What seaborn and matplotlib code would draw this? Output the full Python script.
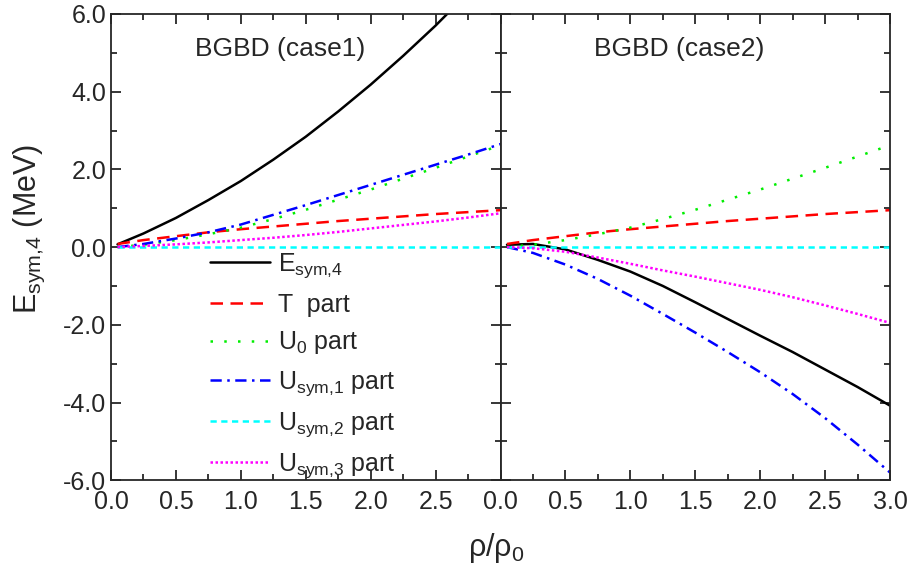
import matplotlib
matplotlib.use("Agg")
import matplotlib.pyplot as plt
from matplotlib.ticker import MultipleLocator, FormatStrFormatter
import pandas as pd
import seaborn as sns

# --- data (rho/rho0 vs MeV) ---
rho = [0.05, 0.25, 0.5, 0.75, 1.0, 1.25, 1.5, 1.75, 2.0, 2.25, 2.5, 2.75, 3.0]

# case 1
c1_esym = [0.07, 0.35, 0.75, 1.21, 1.7, 2.25, 2.84, 3.49, 4.18, 4.92, 5.70, 6.54, 7.43]
c1_t = [0.08, 0.18, 0.28, 0.38, 0.46, 0.53, 0.6, 0.67, 0.73, 0.79, 0.85, 0.9, 0.95]
c1_u0 = [0.0, 0.06, 0.18, 0.33, 0.5, 0.72, 0.96, 1.22, 1.48, 1.76, 2.04, 2.33, 2.62]
c1_us1 = [0.0, 0.08, 0.22, 0.38, 0.58, 0.83, 1.08, 1.34, 1.6, 1.86, 2.12, 2.38, 2.65]
c1_us2 = [0.0] * 13
c1_us3 = [0.0, 0.03, 0.07, 0.12, 0.18, 0.24, 0.31, 0.39, 0.48, 0.57, 0.66, 0.76, 0.87]

# case 2
c2_esym = [0.06, 0.08, -0.06, -0.33, -0.63, -1.0, -1.42, -1.85, -2.28, -2.7, -3.15, -3.6, -4.08]
c2_t = c1_t
c2_u0 = c1_u0
c2_us1 = [0.0, -0.15, -0.45, -0.82, -1.25, -1.72, -2.2, -2.7, -3.22, -3.78, -4.4, -5.08, -5.8]
c2_us2 = [0.0] * 13
c2_us3 = [0.0, -0.03, -0.12, -0.27, -0.43, -0.6, -0.76, -0.93, -1.1, -1.29, -1.5, -1.72, -1.95]

labels = [r"E$_{\mathrm{sym{,}4}}$", r"T  part", r"U$_0$ part",
          r"U$_{\mathrm{sym{,}1}}$ part", r"U$_{\mathrm{sym{,}2}}$ part",
          r"U$_{\mathrm{sym{,}3}}$ part"]
colors = ["black", "red", "#00ee00", "blue", "cyan", "magenta"]
styles = ["-", (0, (5, 3)), (0, (1, 4.5)), (0, (4.5, 2.2, 1, 2.2)), (0, (2.5, 1.8)), (0, (1, 1))]

sns.set_style("ticks")
plt.rcParams["font.family"] = ["Liberation Sans", "DejaVu Sans"]
plt.rcParams["mathtext.fontset"] = "custom"
plt.rcParams["mathtext.rm"] = "Liberation Sans"
plt.rcParams["mathtext.it"] = "Liberation Sans"
plt.rcParams["axes.unicode_minus"] = False

fig, axes = plt.subplots(1, 2, figsize=(9.1, 5.8), dpi=100, sharey=True)
fig.subplots_adjust(left=0.122, right=0.978, top=0.976, bottom=0.172, wspace=0)

cases = [
    ("BGBD (case1)", 0.434, [c1_esym, c1_t, c1_u0, c1_us1, c1_us2, c1_us3]),
    ("BGBD (case2)", 0.46, [c2_esym, c2_t, c2_u0, c2_us1, c2_us2, c2_us3]),
]

for ax, (title, tx, series) in zip(axes, cases):
    for vals, lab, col, ls in zip(series, labels, colors, styles):
        df = pd.DataFrame({"x": rho, "y": vals})
        sns.lineplot(data=df, x="x", y="y", ax=ax, color=col, linestyle=ls,
                     linewidth=1.8, label=lab, legend=False)
    ax.set_xlim(0, 3.0)
    ax.set_ylim(-6, 6)
    ax.xaxis.set_major_locator(MultipleLocator(0.5))
    ax.xaxis.set_minor_locator(MultipleLocator(0.25))
    ax.yaxis.set_major_locator(MultipleLocator(2))
    ax.yaxis.set_minor_locator(MultipleLocator(1))
    ax.xaxis.set_major_formatter(FormatStrFormatter("%.1f"))
    ax.yaxis.set_major_formatter(FormatStrFormatter("%.1f"))
    ax.tick_params(which="both", direction="in", top=True, right=True,
                   labelsize=18, width=1.3)
    ax.tick_params(which="major", length=7)
    ax.tick_params(which="minor", length=4)
    ax.tick_params(axis="x", pad=7)
    for sp in ax.spines.values():
        sp.set_linewidth(1.3)
    ax.set_xlabel("")
    ax.set_ylabel("")
    ax.text(tx, 0.925, title, transform=ax.transAxes, ha="center",
            va="center", fontsize=19)

axes[0].set_xticks([0, 0.5, 1.0, 1.5, 2.0, 2.5])
axes[0].set_xlim(0, 3.0)
axes[1].tick_params(labelleft=False)

axes[0].set_ylabel(r"E$_{\mathrm{sym{,}4}}$ (MeV)", fontsize=22)
axes[0].yaxis.set_label_coords(-0.165, 0.54)
fig.text(0.545, 0.055, r"$\rho/\rho_0$", ha="center", va="center", fontsize=22)

axes[0].legend(loc="upper left", bbox_to_anchor=(0.255, 0.49), frameon=False,
               fontsize=18, handlelength=2.4, handletextpad=0.3,
               labelspacing=0.5, borderpad=0, borderaxespad=0)

fig.savefig("out.png", dpi=100)
